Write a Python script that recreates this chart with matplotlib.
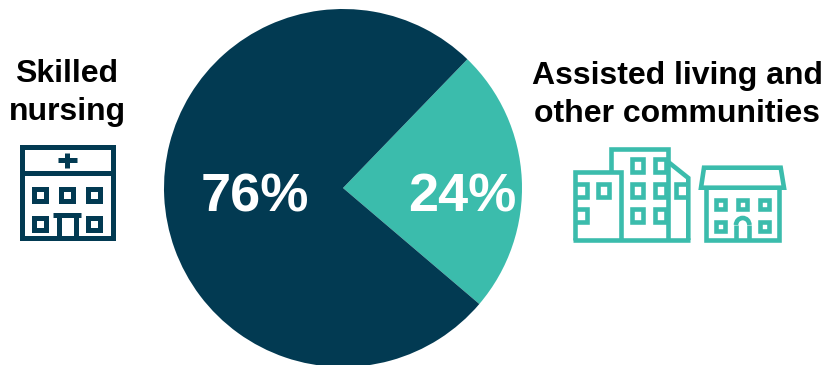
import matplotlib
matplotlib.use("Agg")
import matplotlib.pyplot as plt
from matplotlib.patches import Arc, Polygon, Rectangle

plt.rcParams['font.family'] = ['Liberation Sans', 'DejaVu Sans']

shares = [24, 76]
share_labels = ['24%', '76%']
left_title = 'Skilled\nnursing'
right_title = 'Assisted living and\nother communities'

NAVY = '#023a52'
TEAL = '#3bbcac'
W, H = 826, 365

fig = plt.figure(figsize=(W / 100, H / 100), dpi=100, facecolor='white')

# pie axes, square, sized so the radius is 179 px
cx, cy, r = 343, 188, 179
ax_pie = fig.add_axes([(cx - r) / W, (H - cy - r) / H, 2 * r / W, 2 * r / H])
ax_pie.pie(shares, colors=[TEAL, NAVY], startangle=-40.4, radius=1,
           wedgeprops={'linewidth': 0})
ax_pie.set_xlim(-1, 1)
ax_pie.set_ylim(-1, 1)
ax_pie.axis('off')

# overlay in pixel units for text and icons
ax = fig.add_axes([0, 0, 1, 1], facecolor='none')
ax.set_xlim(0, W)
ax.set_ylim(H, 0)
ax.axis('off')


def box(x, y, w, h, color, lw):
    ax.add_patch(Rectangle((x - w / 2, y - h / 2), w, h, fill=False,
                           edgecolor=color, linewidth=lw, joinstyle='miter'))


def line(xs, ys, color, lw):
    ax.plot(xs, ys, color=color, linewidth=lw, solid_capstyle='butt',
            solid_joinstyle='miter')


def draw_hospital():
    lw = 3.6
    ax.add_patch(Rectangle((21.5, 146.5), 91, 91, fill=False, edgecolor=NAVY,
                           linewidth=lw, joinstyle='miter'))
    line([20, 114], [173, 173], NAVY, lw)
    line([58, 77], [160, 160], NAVY, lw)
    line([67, 67], [153, 168], NAVY, lw)
    for x in (40, 67, 94):
        box(x, 194.5, 12, 12, NAVY, lw)
    for x in (40, 94):
        box(x, 224, 12, 12, NAVY, lw)
    # door
    line([53, 81], [214.5, 214.5], NAVY, lw)
    line([58.5, 58.5], [214, 238], NAVY, lw)
    line([75.5, 75.5], [214, 238], NAVY, lw)


def draw_towers():
    lw = 3.3
    line([575, 575, 620.7, 620.7], [240, 172.3, 172.3, 240], TEAL, lw)
    line([610.7, 610.7, 668.3, 668.3], [172.3, 148.7, 148.7, 240], TEAL, lw)
    line([668.3, 688.3, 688.3], [162, 178, 240], TEAL, lw)
    line([573, 690], [240, 240], TEAL, lw)
    for x in (637.7, 660.7):
        for y in (165.7, 190.3, 215.3):
            box(x, y, 11, 12.7, TEAL, lw)
    box(603, 190.3, 11, 12.7, TEAL, lw)
    # windows cut by the walls
    line([575, 587, 587, 575], [184, 184, 196.5, 196.5], TEAL, lw)
    line([575, 587, 587, 575], [209, 209, 221.5, 221.5], TEAL, lw)
    line([688, 676, 676, 688], [184, 184, 196.5, 196.5], TEAL, lw)


def draw_house():
    lw = 3.3
    ax.add_patch(Polygon([(704, 167.7), (780.7, 167.7), (784, 187.7), (701, 187.7)],
                         closed=True, fill=False, edgecolor=TEAL, linewidth=lw,
                         joinstyle='miter'))
    line([705.7, 705.7, 779.3, 779.3], [187.7, 240.3, 240.3, 187.7], TEAL, lw)
    for x in (720.7, 742.7, 764.7):
        box(x, 204.7, 9.5, 9.5, TEAL, lw)
    for x in (720.7, 764.7):
        box(x, 226.7, 9.5, 9.5, TEAL, lw)
    # arched door
    line([736, 736], [240, 225], TEAL, lw)
    line([749.4, 749.4], [240, 225], TEAL, lw)
    ax.add_patch(Arc((742.7, 225), 13.4, 14, theta1=180, theta2=360,
                     edgecolor=TEAL, linewidth=lw))


ax.text(255, 192, share_labels[1], color='white', fontsize=39, fontweight='bold',
        ha='center', va='center_baseline')
ax.text(462, 192, share_labels[0], color='white', fontsize=39, fontweight='bold',
        ha='center', va='center_baseline')
ax.text(67, 93, left_title, color='black', fontsize=23, fontweight='bold',
        ha='center', va='center', linespacing=1.38)
ax.text(677, 95, right_title, color='black', fontsize=23, fontweight='bold',
        ha='center', va='center', linespacing=1.38)

draw_hospital()
draw_towers()
draw_house()

fig.savefig('out.png', dpi=100, facecolor='white')
